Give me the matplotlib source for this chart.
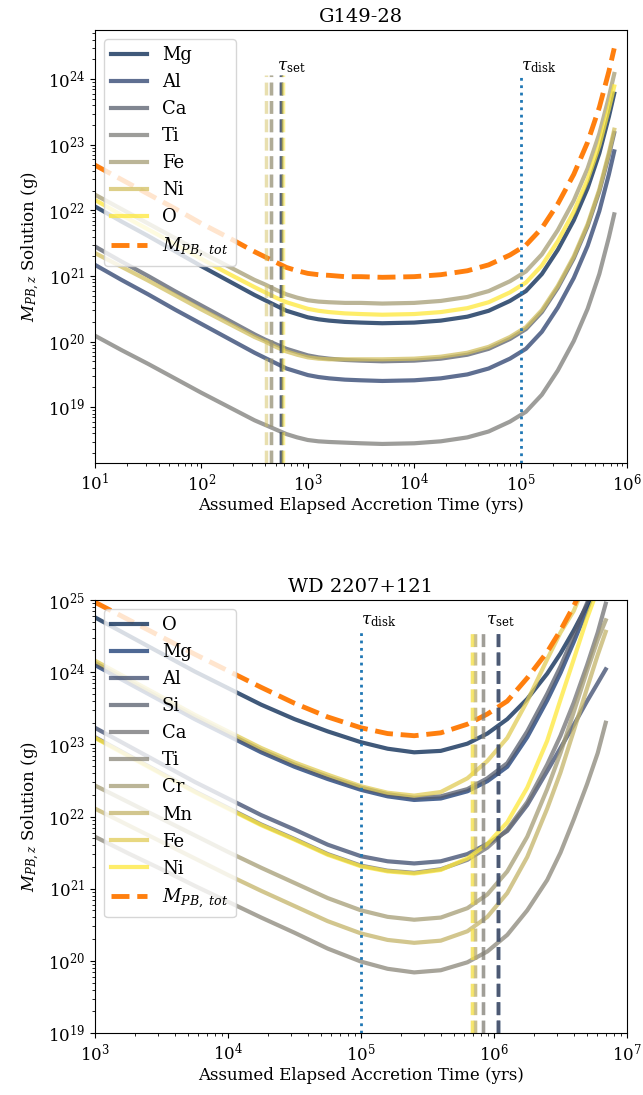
import numpy as np
import matplotlib
matplotlib.use('Agg')
import matplotlib.pyplot as plt

plt.rcParams['font.family'] = 'serif'
plt.rcParams['mathtext.fontset'] = 'dejavuserif'

# --- G149-28 (log10 values) ---
g149_logt = [1.0, 1.25, 1.5, 1.75, 2.0, 2.25, 2.5, 2.6, 2.7, 2.8, 2.9, 3.0, 3.1, 3.2, 3.35,
             3.5, 3.7, 4.0, 4.25, 4.5, 4.7, 4.9, 5.05, 5.2, 5.35, 5.5, 5.63, 5.74, 5.83, 5.88]
g149_names = ['Mg', 'Al', 'Ca', 'Ti', 'Fe', 'Ni', 'O']
g149_mg = [22.06, 21.83, 21.61, 21.38, 21.15, 20.93, 20.71, 20.63, 20.55, 20.47, 20.42, 20.37, 20.34, 20.32, 20.30,
           20.29, 20.28, 20.29, 20.32, 20.38, 20.47, 20.62, 20.77, 21.03, 21.40, 21.85, 22.34, 22.87, 23.43, 23.78]
g149_al = [21.17, 20.94, 20.72, 20.49, 20.27, 20.05, 19.83, 19.75, 19.67, 19.59, 19.54, 19.49, 19.46, 19.44, 19.42,
           19.41, 19.40, 19.41, 19.44, 19.50, 19.59, 19.74, 19.89, 20.15, 20.52, 20.97, 21.46, 21.99, 22.55, 22.90]
g149_ca = [21.45, 21.22, 21.00, 20.77, 20.55, 20.33, 20.11, 20.03, 19.96, 19.89, 19.84, 19.79, 19.76, 19.74, 19.72,
           19.71, 19.70, 19.71, 19.74, 19.80, 19.89, 20.04, 20.19, 20.45, 20.82, 21.27, 21.76, 22.29, 22.84, 23.18]
g149_ti = [20.09, 19.87, 19.66, 19.44, 19.22, 19.01, 18.80, 18.73, 18.66, 18.59, 18.54, 18.50, 18.48, 18.47, 18.46,
           18.45, 18.44, 18.45, 18.48, 18.54, 18.63, 18.78, 18.93, 19.19, 19.56, 20.01, 20.50, 21.03, 21.59, 21.94]
g149_fe = [22.24, 22.02, 21.80, 21.58, 21.36, 21.15, 20.94, 20.87, 20.79, 20.72, 20.67, 20.63, 20.61, 20.60, 20.59,
           20.59, 20.58, 20.59, 20.62, 20.68, 20.77, 20.92, 21.07, 21.33, 21.70, 22.15, 22.64, 23.17, 23.73, 24.08]
g149_ni = [21.35, 21.14, 20.93, 20.71, 20.49, 20.28, 20.07, 20.00, 19.92, 19.85, 19.80, 19.76, 19.74, 19.73, 19.73,
           19.73, 19.73, 19.74, 19.77, 19.83, 19.92, 20.07, 20.22, 20.48, 20.85, 21.30, 21.79, 22.32, 22.88, 23.23]
g149_o = [22.16, 21.93, 21.71, 21.49, 21.26, 21.04, 20.83, 20.75, 20.67, 20.60, 20.55, 20.50, 20.47, 20.45, 20.43,
          20.42, 20.41, 20.42, 20.45, 20.51, 20.60, 20.75, 20.90, 21.16, 21.53, 21.98, 22.47, 22.99, 23.55, 23.89]
g149_tot = [22.69, 22.47, 22.25, 22.03, 21.80, 21.59, 21.37, 21.29, 21.21, 21.13, 21.08, 21.04, 21.02, 21.01, 20.99,
            20.99, 20.98, 20.99, 21.02, 21.08, 21.17, 21.32, 21.47, 21.73, 22.10, 22.55, 23.04, 23.57, 24.12, 24.47]
g149_tset = [566, 566, 566, 447, 447, 404, 582]
g149_tdisk = 1e5

# --- WD 2207+121 ---
wd_logt = [3.0, 3.25, 3.5, 3.75, 4.0, 4.25, 4.5, 4.75, 5.0, 5.2, 5.4, 5.6, 5.8, 5.95,
           6.1, 6.25, 6.4, 6.5, 6.6, 6.7, 6.78, 6.84]
wd_names = ['O', 'Mg', 'Al', 'Si', 'Ca', 'Ti', 'Cr', 'Mn', 'Fe', 'Ni']
wd_o = [24.76, 24.51, 24.26, 24.01, 23.78, 23.55, 23.35, 23.18, 23.03, 22.94, 22.89, 22.91, 23.01, 23.15,
        23.35, 23.63, 23.98, 24.26, 24.58, 24.93, 25.24, 25.50]
wd_mg = [24.10, 23.85, 23.60, 23.35, 23.12, 22.89, 22.69, 22.52, 22.37, 22.28, 22.23, 22.25, 22.35, 22.49,
         22.69, 23.10, 23.61, 23.99, 24.42, 24.87, 25.24, 25.50]
wd_al = [23.23, 22.98, 22.73, 22.48, 22.25, 22.02, 21.82, 21.61, 21.45, 21.38, 21.35, 21.38, 21.48, 21.62,
         21.80, 22.16, 22.63, 22.95, 23.27, 23.60, 23.85, 24.04]
wd_si = [24.13, 23.88, 23.63, 23.38, 23.15, 22.92, 22.72, 22.55, 22.40, 22.31, 22.26, 22.28, 22.38, 22.53,
         22.74, 23.18, 23.70, 24.08, 24.51, 24.96, 25.33, 25.59]
wd_ca = [23.10, 22.85, 22.60, 22.35, 22.12, 21.89, 21.69, 21.48, 21.32, 21.25, 21.22, 21.27, 21.40, 21.57,
         21.82, 22.20, 22.72, 23.12, 23.58, 24.10, 24.55, 24.95]
wd_ti = [21.72, 21.49, 21.27, 21.04, 20.82, 20.60, 20.39, 20.17, 19.99, 19.89, 19.84, 19.87, 19.98, 20.13,
         20.36, 20.70, 21.12, 21.50, 21.96, 22.45, 22.88, 23.30]
wd_cr = [22.43, 22.20, 21.97, 21.74, 21.51, 21.29, 21.08, 20.87, 20.70, 20.61, 20.57, 20.60, 20.73, 20.92,
         21.24, 21.72, 22.38, 22.88, 23.45, 24.02, 24.45, 24.72]
wd_mn = [22.11, 21.88, 21.65, 21.42, 21.19, 20.97, 20.76, 20.55, 20.38, 20.29, 20.25, 20.28, 20.41, 20.61,
         20.94, 21.44, 22.11, 22.61, 23.19, 23.78, 24.24, 24.56]
wd_fe = [24.16, 23.91, 23.66, 23.41, 23.18, 22.95, 22.75, 22.58, 22.42, 22.33, 22.29, 22.34, 22.53, 22.77,
         23.09, 23.60, 24.18, 24.55, 24.85, 25.30, 25.70, 26.00]
wd_ni = [23.09, 22.84, 22.59, 22.34, 22.11, 21.88, 21.68, 21.47, 21.31, 21.24, 21.21, 21.26, 21.42, 21.62,
         21.92, 22.40, 23.05, 23.62, 24.18, 24.75, 25.15, 25.50]
wd_tot = [24.97, 24.73, 24.49, 24.25, 24.02, 23.79, 23.57, 23.38, 23.23, 23.15, 23.12, 23.16, 23.28, 23.42,
          23.60, 23.92, 24.28, 24.58, 24.92, 25.30, 25.65, 25.95]
wd_tset = [1.077e6, 1.077e6, 1.077e6, 1.077e6, 8.22e5, 8.22e5, 7.19e5, 7.19e5, 6.79e5, 6.79e5]
wd_tdisk = 1e5


def draw_panel(ax, title, logt, names, curves, tot, tset, tdisk, xlim, ylim, vtop):
    colors = plt.cm.cividis(np.linspace(0, 1, len(names)))
    t = 10 ** np.array(logt)

    for name, vals, c in zip(names, curves, colors):
        ax.plot(t, 10 ** np.array(vals), color=c, lw=3, alpha=0.75, label=name)
    ax.plot(t, 10 ** np.array(tot), '--', color='C1', lw=3.5, label=r'$M_{PB,\ tot}$')

    # settling times and disk lifetime
    for ts, c in zip(tset, colors):
        ax.axvline(ts, ymax=vtop, ls='--', color=c, lw=2.5, alpha=0.5)
    ax.axvline(tdisk, ymax=vtop, ls=':', color='C0', lw=2)

    ax.set_xscale('log')
    ax.set_yscale('log')
    ax.set_xlim(*xlim)
    ax.set_ylim(*ylim)

    ytxt = ylim[0] * (ylim[1] / ylim[0]) ** vtop
    ax.text(np.mean(tset), ytxt, r'$\tau_{\rm set}$', fontsize=12, ha='left', va='bottom')
    ax.text(tdisk, ytxt, r'$\tau_{\rm disk}$', fontsize=12, ha='left', va='bottom')

    ax.set_title(title, fontsize=14)
    ax.set_xlabel('Assumed Elapsed Accretion Time (yrs)', fontsize=12, labelpad=2)
    ax.set_ylabel(r'$M_{PB,z}$ Solution (g)', fontsize=12)
    ax.tick_params(labelsize=12)
    ax.legend(loc='upper left', fontsize=13)


fig = plt.figure(figsize=(6.43, 10.95), dpi=100)
ax1 = fig.add_axes([0.1477, 0.5772, 0.8274, 0.3954])
ax2 = fig.add_axes([0.1477, 0.0566, 0.8274, 0.3954])

draw_panel(ax1, 'G149-28', g149_logt, g149_names,
           [g149_mg, g149_al, g149_ca, g149_ti, g149_fe, g149_ni, g149_o],
           g149_tot, g149_tset, g149_tdisk,
           (1e1, 1e6), (10 ** 18.15, 10 ** 24.75), 0.895)

draw_panel(ax2, 'WD 2207+121', wd_logt, wd_names,
           [wd_o, wd_mg, wd_al, wd_si, wd_ca, wd_ti, wd_cr, wd_mn, wd_fe, wd_ni],
           wd_tot, wd_tset, wd_tdisk,
           (1e3, 1e7), (1e19, 1e25), 0.933)

fig.savefig('out.png', dpi=100)
